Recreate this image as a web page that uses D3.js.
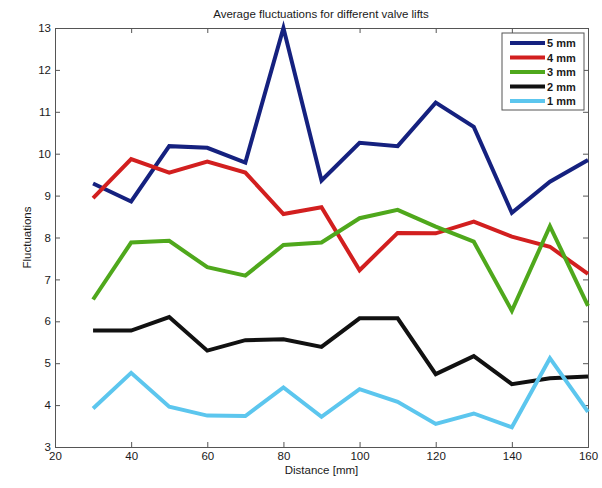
<!DOCTYPE html>
<html>
<head>
<meta charset="utf-8">
<script src="https://cdn.jsdelivr.net/npm/d3@7/dist/d3.min.js"></script>
<style>
  html, body { margin: 0; padding: 0; background: #fff; }
  svg { display: block; }
  text { font-family: "Liberation Sans", Arial, sans-serif; fill: #1a1a1a; }
</style>
</head>
<body>
<svg id="chart" width="602" height="488"></svg>
<script>
// Distances along the duct (mm)
const distances = [30, 40, 50, 60, 70, 80, 90, 100, 110, 120, 130, 140, 150, 160];

// Average fluctuations per valve lift
const lift5mm = [9.29, 8.86, 10.18, 10.14, 9.79, 13.0, 9.36, 10.26, 10.18, 11.22, 10.64, 8.59, 9.33, 9.85];
const lift4mm = [8.94, 9.87, 9.55, 9.81, 9.55, 8.56, 8.72, 7.22, 8.11, 8.10, 8.38, 8.02, 7.78, 7.13];
const lift3mm = [6.52, 7.88, 7.92, 7.29, 7.09, 7.82, 7.88, 8.46, 8.66, 8.26, 7.90, 6.25, 8.27, 6.37];
const lift2mm = [5.78, 5.78, 6.10, 5.30, 5.55, 5.57, 5.39, 6.07, 6.07, 4.74, 5.17, 4.50, 4.64, 4.68];
const lift1mm = [3.92, 4.77, 3.96, 3.75, 3.74, 4.42, 3.72, 4.38, 4.08, 3.55, 3.80, 3.47, 5.12, 3.84];

const seriesNames = ["5 mm", "4 mm", "3 mm", "2 mm", "1 mm"];
const seriesColors = ["#15217f", "#d21f1f", "#4fa81c", "#111111", "#5cc6ee"];

const xTicks = [20, 40, 60, 80, 100, 120, 140, 160];
const yTicks = [3, 4, 5, 6, 7, 8, 9, 10, 11, 12, 13];

const series = [lift5mm, lift4mm, lift3mm, lift2mm, lift1mm].map((vals, i) => ({
  name: seriesNames[i],
  color: seriesColors[i],
  points: distances.map((d, j) => ({ x: d, y: vals[j] }))
}));

const svg = d3.select("#chart");
const margin = { left: 55, right: 14, top: 28, bottom: 41 };
const W = 602, H = 488;
const x = d3.scaleLinear().domain([20, 160]).range([margin.left, W - margin.right]);
const y = d3.scaleLinear().domain([3, 13]).range([H - margin.bottom, margin.top]);

const frameColor = "#555";
const tickLen = 5;

// axes with inward ticks on all four sides
const gBottom = svg.append("g").attr("transform", `translate(0,${y(3)})`)
  .call(d3.axisBottom(x).tickValues(xTicks).tickSize(-tickLen).tickPadding(3).tickFormat(d3.format("d")));
const gTop = svg.append("g").attr("transform", `translate(0,${y(13)})`)
  .call(d3.axisTop(x).tickValues(xTicks).tickSize(-tickLen).tickFormat(""));
const gLeft = svg.append("g").attr("transform", `translate(${x(20)},0)`)
  .call(d3.axisLeft(y).tickValues(yTicks).tickSize(-tickLen).tickPadding(4).tickFormat(d3.format("d")));
const gRight = svg.append("g").attr("transform", `translate(${x(160)},0)`)
  .call(d3.axisRight(y).tickValues(yTicks).tickSize(-tickLen).tickFormat(""));

[gBottom, gTop, gLeft, gRight].forEach(g => {
  g.select(".domain").attr("stroke", frameColor).attr("stroke-width", 1);
  g.selectAll(".tick line").attr("stroke", frameColor);
  g.selectAll("text").attr("font-size", 11.5).attr("fill", "#1a1a1a")
    .style("font-family", "'Liberation Sans', Arial, sans-serif");
});
gBottom.selectAll("text").attr("dy", "0.9em");

// series lines
const line = d3.line().x(d => x(d.x)).y(d => y(d.y));
svg.append("g").selectAll("path").data(series).join("path")
  .attr("d", d => line(d.points))
  .attr("fill", "none")
  .attr("stroke", d => d.color)
  .attr("stroke-width", 4)
  .attr("stroke-linejoin", "miter")
  .attr("stroke-linecap", "butt");

// title and axis labels
svg.append("text").attr("x", 321).attr("y", 18).attr("text-anchor", "middle")
  .attr("font-size", 11.5).text("Average fluctuations for different valve lifts");
svg.append("text").attr("x", (x(20) + x(160)) / 2).attr("y", 474).attr("text-anchor", "middle")
  .attr("font-size", 11.5).text("Distance [mm]");
svg.append("text").attr("transform", `translate(31,${(y(3) + y(13)) / 2}) rotate(-90)`)
  .attr("text-anchor", "middle").attr("font-size", 11.5).text("Fluctuations");

// legend, tucked into the upper-right corner of the plot area
const legend = svg.append("g").attr("transform", "translate(502,33)");
legend.append("rect").attr("width", 82).attr("height", 77)
  .attr("fill", "#fff").attr("stroke", frameColor).attr("stroke-width", 1);
const rows = legend.selectAll("g.row").data(series).join("g").attr("class", "row")
  .attr("transform", (d, i) => `translate(0,${10 + i * 14.5})`);
rows.append("line").attr("x1", 8).attr("x2", 43).attr("y1", 0).attr("y2", 0)
  .attr("stroke", d => d.color).attr("stroke-width", 4);
rows.append("text").attr("x", 45).attr("y", 4).attr("font-size", 11).attr("font-weight", "bold")
  .text(d => d.name);
</script>
</body>
</html>
